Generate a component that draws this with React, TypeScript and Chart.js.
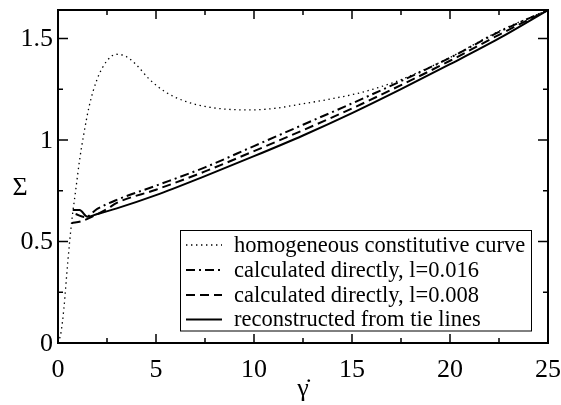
import React, { useEffect, useRef } from "react";
import { Chart, registerables } from "chart.js";
Chart.register(...registerables);

// homogeneous constitutive curve (dotted)
const homX = [0, 0.15, 0.3, 0.5, 0.7, 0.9, 1.1, 1.3, 1.6, 2.0, 2.5, 3.0, 3.5, 4.0, 4.65, 5.5, 6.5, 7.5, 8.5, 9.8, 11, 12.3, 13.8, 15.4, 16.6, 17.5, 19, 20, 22.5, 25];
const homY = [0, 0.05, 0.17, 0.4, 0.6, 0.75, 0.9, 1.02, 1.17, 1.3, 1.39, 1.422, 1.41, 1.37, 1.3, 1.235, 1.19, 1.165, 1.152, 1.148, 1.155, 1.175, 1.2, 1.232, 1.266, 1.297, 1.36, 1.406, 1.536, 1.64];

// calculated directly, l=0.016 (dash-dot)
const l016X = [0.9, 1.4, 2, 3, 5, 7.5, 10, 12.5, 15, 17.5, 20, 22.5, 25];
const l016Y = [0.635, 0.62, 0.66, 0.705, 0.775, 0.865, 0.97, 1.075, 1.18, 1.29, 1.405, 1.532, 1.64];

// calculated directly, l=0.008 (dashed)
const l008X = [0.7, 1.2, 1.8, 2.5, 3, 5, 7.5, 10, 12.5, 15, 17.5, 20, 22.5, 25];
const l008Y = [0.59, 0.6, 0.625, 0.66, 0.69, 0.755, 0.845, 0.945, 1.048, 1.155, 1.27, 1.39, 1.518, 1.64];

// reconstructed from tie lines (solid)
const tieX = [0.75, 1.1, 1.5, 2, 3, 5, 7.5, 10, 12.5, 15, 17.5, 20, 22.5, 25];
const tieY = [0.655, 0.655, 0.622, 0.635, 0.663, 0.728, 0.822, 0.92, 1.022, 1.132, 1.25, 1.373, 1.5, 1.64];

const xTicks = [0, 5, 10, 15, 20, 25];
const yTicks = [0, 0.5, 1, 1.5];
const xMinor = [2.5, 7.5, 12.5, 17.5, 22.5];
const yMinor = [0.25, 0.75, 1.25];

const legendLabels = [
  "homogeneous constitutive curve",
  "calculated directly, l=0.016",
  "calculated directly, l=0.008",
  "reconstructed from tie lines",
];

const FONT = "Liberation Serif";

const pts = (xs: number[], ys: number[]) => xs.map((x, i) => ({ x, y: ys[i] }));

const dashes: number[][] = [[1.4, 3.6], [9, 4, 2, 4], [9, 5], []];
const widths = [1.3, 2, 2, 2];

const framePlugin = {
  id: "frame",
  afterDraw(chart: any) {
    const { ctx, chartArea: a, scales } = chart;
    const xs = scales.x;
    const ys = scales.y;
    ctx.save();
    ctx.strokeStyle = "#000";
    ctx.lineWidth = 1.5;
    ctx.beginPath();
    const tick = (vals: number[], len: number) => {
      vals.forEach((v) => {
        const px = xs.getPixelForValue(v);
        ctx.moveTo(px, a.bottom);
        ctx.lineTo(px, a.bottom - len);
        ctx.moveTo(px, a.top);
        ctx.lineTo(px, a.top + len);
      });
    };
    const tickY = (vals: number[], len: number) => {
      vals.forEach((v) => {
        const py = ys.getPixelForValue(v);
        ctx.moveTo(a.left, py);
        ctx.lineTo(a.left + len, py);
        ctx.moveTo(a.right, py);
        ctx.lineTo(a.right - len, py);
      });
    };
    tick(xTicks, 9);
    tick(xMinor, 5);
    tickY(yTicks, 10);
    tickY(yMinor, 5);
    ctx.stroke();
    ctx.lineWidth = 2;
    ctx.strokeRect(a.left, a.top, a.right - a.left, a.bottom - a.top);

    // tick labels
    ctx.fillStyle = "#000";
    ctx.font = `26px "${FONT}"`;
    ctx.textAlign = "center";
    ctx.textBaseline = "alphabetic";
    xTicks.forEach((v) => {
      ctx.fillText(String(v), xs.getPixelForValue(v), 377);
    });
    ctx.textAlign = "right";
    ctx.textBaseline = "middle";
    yTicks.forEach((v) => {
      ctx.fillText(String(v), a.left - 5, ys.getPixelForValue(v) + 1);
    });

    // axis titles
    ctx.font = `26px "${FONT}"`;
    ctx.textAlign = "center";
    ctx.textBaseline = "middle";
    ctx.fillText("\u03A3", 20, 188);
    ctx.fillText("\u03B3\u0307", 303, 389);

    // legend
    const lx = 180.5, ly = 230.5, lw = 351, lh = 100.5;
    ctx.fillStyle = "#fff";
    ctx.fillRect(lx, ly, lw, lh);
    ctx.lineWidth = 1;
    ctx.strokeStyle = "#000";
    ctx.strokeRect(lx, ly, lw, lh);
    const rows = [245, 270, 295, 319.5];
    ctx.font = `22.5px "${FONT}"`;
    ctx.textAlign = "left";
    ctx.textBaseline = "middle";
    legendLabels.forEach((t, i) => {
      ctx.beginPath();
      ctx.setLineDash(dashes[i]);
      ctx.lineWidth = widths[i];
      ctx.moveTo(186, rows[i]);
      ctx.lineTo(222, rows[i]);
      ctx.stroke();
      ctx.setLineDash([]);
      ctx.fillStyle = "#000";
      ctx.fillText(t, 234, rows[i] + 1);
    });
    ctx.restore();
  },
};

export default function App() {
  const ref = useRef<HTMLCanvasElement>(null);
  useEffect(() => {
    if (!ref.current) return;
    const series = [pts(homX, homY), pts(l016X, l016Y), pts(l008X, l008Y), pts(tieX, tieY)];
    const chart = new Chart(ref.current, {
      type: "line",
      data: {
        datasets: series.map((d, i) => ({
          label: legendLabels[i],
          data: d,
          borderColor: "#000",
          borderWidth: widths[i],
          borderDash: dashes[i],
          pointRadius: 0,
          fill: false,
          cubicInterpolationMode: "monotone" as const,
        })),
      },
      options: {
        animation: false,
        responsive: false,
        layout: { padding: { top: 10, right: 13, left: 0, bottom: 0 } },
        plugins: { legend: { display: false }, tooltip: { enabled: false } },
        scales: {
          x: {
            type: "linear",
            min: 0,
            max: 25,
            grid: { display: false, drawTicks: false },
            border: { display: false },
            ticks: { display: false },
            afterBuildTicks: (s: any) => { s.ticks = xTicks.map((v) => ({ value: v })); },
            afterFit: (s: any) => {
              s.height = 62;
              s.paddingLeft = 0; s.paddingRight = 0; s.paddingTop = 0; s.paddingBottom = 0;
            },
          },
          y: {
            type: "linear",
            min: 0,
            max: 1.64,
            grid: { display: false, drawTicks: false },
            border: { display: false },
            ticks: { display: false },
            afterBuildTicks: (s: any) => { s.ticks = yTicks.map((v) => ({ value: v })); },
            afterFit: (s: any) => {
              s.width = 58;
              s.paddingLeft = 0; s.paddingRight = 0; s.paddingTop = 0; s.paddingBottom = 0;
            },
          },
        },
      },
      plugins: [framePlugin],
    });
    return () => chart.destroy();
  }, []);
  return (
    <div style={{ position: "absolute", left: 0, top: 0, width: 561, height: 405 }}>
      <canvas ref={ref} width={561} height={405} />
    </div>
  );
}
